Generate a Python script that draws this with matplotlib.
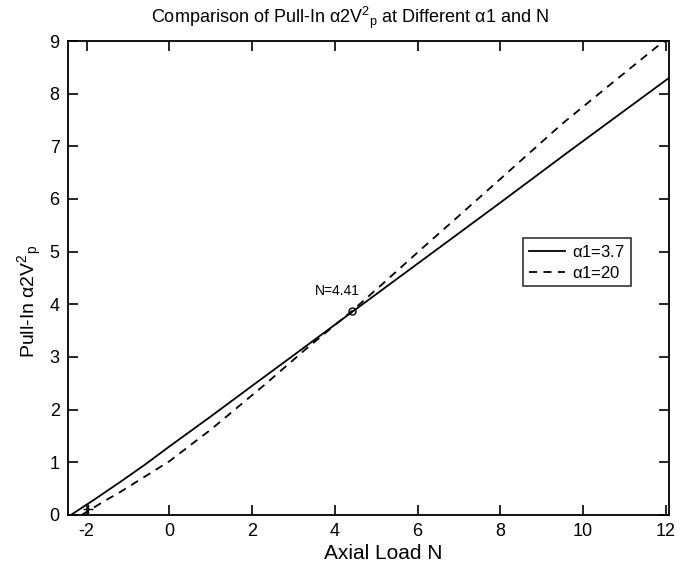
import matplotlib
matplotlib.use("Agg")
import matplotlib.pyplot as plt

plt.rcParams['font.family'] = ['Liberation Sans', 'DejaVu Sans']
plt.rcParams['mathtext.fontset'] = 'custom'
plt.rcParams['mathtext.rm'] = 'Liberation Sans'
plt.rcParams['mathtext.it'] = 'Liberation Sans'
plt.rcParams['axes.unicode_minus'] = False

# curve alpha1 = 3.7 (solid)
n_solid = [-2.38, -1.8, -1.2, -0.6, 0.0, 1.0, 2.1, 3.0, 4.41, 6.05, 8.0, 9.69, 12.08]
y_solid = [0.0, 0.30, 0.62, 0.95, 1.30, 1.87, 2.51, 3.03, 3.85, 4.80, 5.93, 6.92, 8.30]

# curve alpha1 = 20 (dashed)
n_dash = [-2.12, -1.6, -1.2, -0.65, 0.0, 1.0, 2.3, 3.3, 4.41, 5.2, 6.05, 7.0, 8.0, 9.5, 10.7, 11.8, 12.08]
y_dash = [0.0, 0.25, 0.43, 0.70, 1.02, 1.62, 2.47, 3.15, 3.87, 4.42, 5.02, 5.68, 6.38, 7.43, 8.20, 8.90, 9.05]

cross_n, cross_y = 4.41, 3.87
plus_n, plus_y = -1.97, 0.12

fig = plt.figure(figsize=(6.89, 5.72), dpi=100)
ax = fig.add_axes([0.0987, 0.0997, 0.8723, 0.8286])

ax.plot(n_solid, y_solid, '-', color='black', lw=1.3, label=r'$\alpha$1=3.7')
ax.plot(n_dash, y_dash, '--', color='black', lw=1.3, dashes=(4.5, 3.5), label=r'$\alpha$1=20')
ax.plot(cross_n, cross_y, 'o', mfc='none', mec='black', ms=5, mew=1.0)
ax.plot(plus_n, plus_y, '+', color='black', ms=7, mew=1.0)
ax.text(4.05, 4.12, 'N=4.41', fontsize=10, ha='center', va='bottom')

ax.set_xlim(-2.45, 12.08)
ax.set_ylim(0, 9)
ax.set_xticks(range(-2, 13, 2))
ax.set_yticks(range(0, 10))
ax.tick_params(direction='in', top=True, right=True, length=7, width=1.2, labelsize=13, pad=6)
for s in ax.spines.values():
    s.set_linewidth(1.3)

ax.set_title(r'Comparison of Pull-In $\alpha$2V$^{2}$$_{\mathrm{p}}$ at Different $\alpha$1 and N',
             fontsize=13, pad=13, x=0.47)
ax.set_xlabel('Axial Load N', fontsize=15)
ax.xaxis.set_label_coords(0.524, -0.062)
ax.set_ylabel(r'Pull-In $\alpha$2V$^{2}$$_{\mathrm{p}}$', fontsize=14)
ax.yaxis.set_label_coords(-0.04, 0.45)

leg = ax.legend(loc='upper left', bbox_to_anchor=(0.757, 0.585), fontsize=12,
                frameon=True, fancybox=False, handlelength=2.2, handletextpad=0.4,
                borderpad=0.35, labelspacing=0.3, borderaxespad=0)
leg.get_frame().set_edgecolor('black')
leg.get_frame().set_linewidth(1.2)

fig.savefig('out.png', dpi=100)
